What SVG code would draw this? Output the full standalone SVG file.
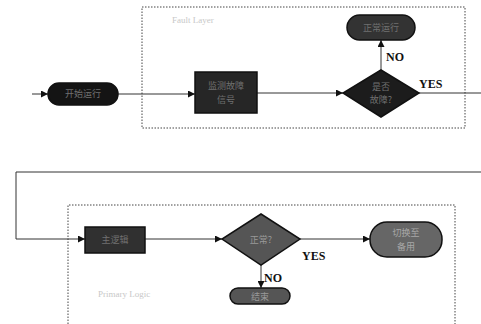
<svg xmlns="http://www.w3.org/2000/svg" width="481" height="324" viewBox="0 0 481 324">
<style>
.box{fill:none;stroke:#444;stroke-width:1;stroke-dasharray:1.5 1.5}
.lbl{font-family:"Liberation Serif","Noto Sans CJK SC",serif;font-size:9px;fill:#c8c8c8}
.yn{font-family:"Liberation Serif",serif;font-size:12px;font-weight:bold;fill:#111}
.nt{font-family:"Noto Sans CJK SC",sans-serif;font-size:9px;fill:#707070;text-anchor:middle}
.ln{fill:none;stroke:#333;stroke-width:1}
.nd{stroke:#111;stroke-width:1.5}
</style>
<defs>
<marker id="ah" viewBox="0 0 10 10" refX="10" refY="5" markerWidth="7" markerHeight="7" orient="auto" markerUnits="userSpaceOnUse">
<path d="M0,0 L10,5 L0,10 z" fill="#111"/>
</marker>
</defs>
<rect width="481" height="324" fill="#fff"/>
<g id="frames">
<rect class="box" x="142" y="7" width="323" height="121"/>
<path class="box" d="M68,330 V205 H455 V330"/>
<text class="lbl" x="172" y="23">Fault Layer</text>
<text class="lbl" x="98" y="297">Primary Logic</text>
</g>
<g id="connectors">
<line class="ln" x1="32" y1="94" x2="48" y2="94" marker-end="url(#ah)"/>
<line class="ln" x1="118" y1="94" x2="195" y2="94" marker-end="url(#ah)"/>
<line class="ln" x1="257" y1="93" x2="343" y2="93" marker-end="url(#ah)"/>
<line class="ln" x1="381" y1="70" x2="381" y2="40" marker-end="url(#ah)"/>
<line class="ln" x1="419" y1="93" x2="481" y2="93"/>
<polyline class="ln" points="481,172 16,172 16,239 85,239" marker-end="url(#ah)"/>
<line class="ln" x1="145" y1="239" x2="222" y2="239" marker-end="url(#ah)"/>
<line class="ln" x1="300" y1="239" x2="370" y2="239" marker-end="url(#ah)"/>
<line class="ln" x1="261" y1="265" x2="261" y2="288" marker-end="url(#ah)"/>
<text class="yn" x="386" y="61">NO</text>
<text class="yn" x="419" y="88">YES</text>
<text class="yn" x="302" y="260">YES</text>
<text class="yn" x="264" y="282">NO</text>
</g>
<g id="start">
<rect class="nd" x="48" y="83" width="70" height="22" rx="11" fill="#141414"/>
<text class="nt" x="83" y="97">开始运行</text>
</g>
<g id="detect">
<rect class="nd" x="195" y="72" width="62" height="41" fill="#262626" stroke="#444"/>
<text class="nt" x="226" y="89">监测故障</text>
<text class="nt" x="226" y="103">信号</text>
</g>
<g id="fault-check">
<polygon class="nd" points="381,70 419,93 381,117 343,93" fill="#1c1c1c"/>
<text class="nt" x="381" y="90">是否</text>
<text class="nt" x="381" y="103">故障?</text>
</g>
<g id="fault-end">
<rect class="nd" x="347" y="15" width="68" height="25" rx="12.5" fill="#333"/>
<text class="nt" x="381" y="31">正常运行</text>
</g>
<g id="primary">
<rect class="nd" x="85" y="227" width="60" height="26" fill="#303030"/>
<text class="nt" x="115" y="243">主逻辑</text>
</g>
<g id="normal-check">
<polygon class="nd" points="261,214 300,239 261,265 222,239" fill="#555"/>
<text class="nt" x="261" y="243" style="fill:#999">正常?</text>
</g>
<g id="switch">
<rect class="nd" x="370" y="222" width="72" height="35" rx="17" fill="#666"/>
<text class="nt" x="406" y="236" style="fill:#a8a8a8">切换至</text>
<text class="nt" x="406" y="250" style="fill:#a8a8a8">备用</text>
</g>
<g id="stop">
<rect class="nd" x="230" y="288" width="60" height="16" rx="8" fill="#555"/>
<text class="nt" x="260" y="300" style="fill:#999">结束</text>
</g>
</svg>
